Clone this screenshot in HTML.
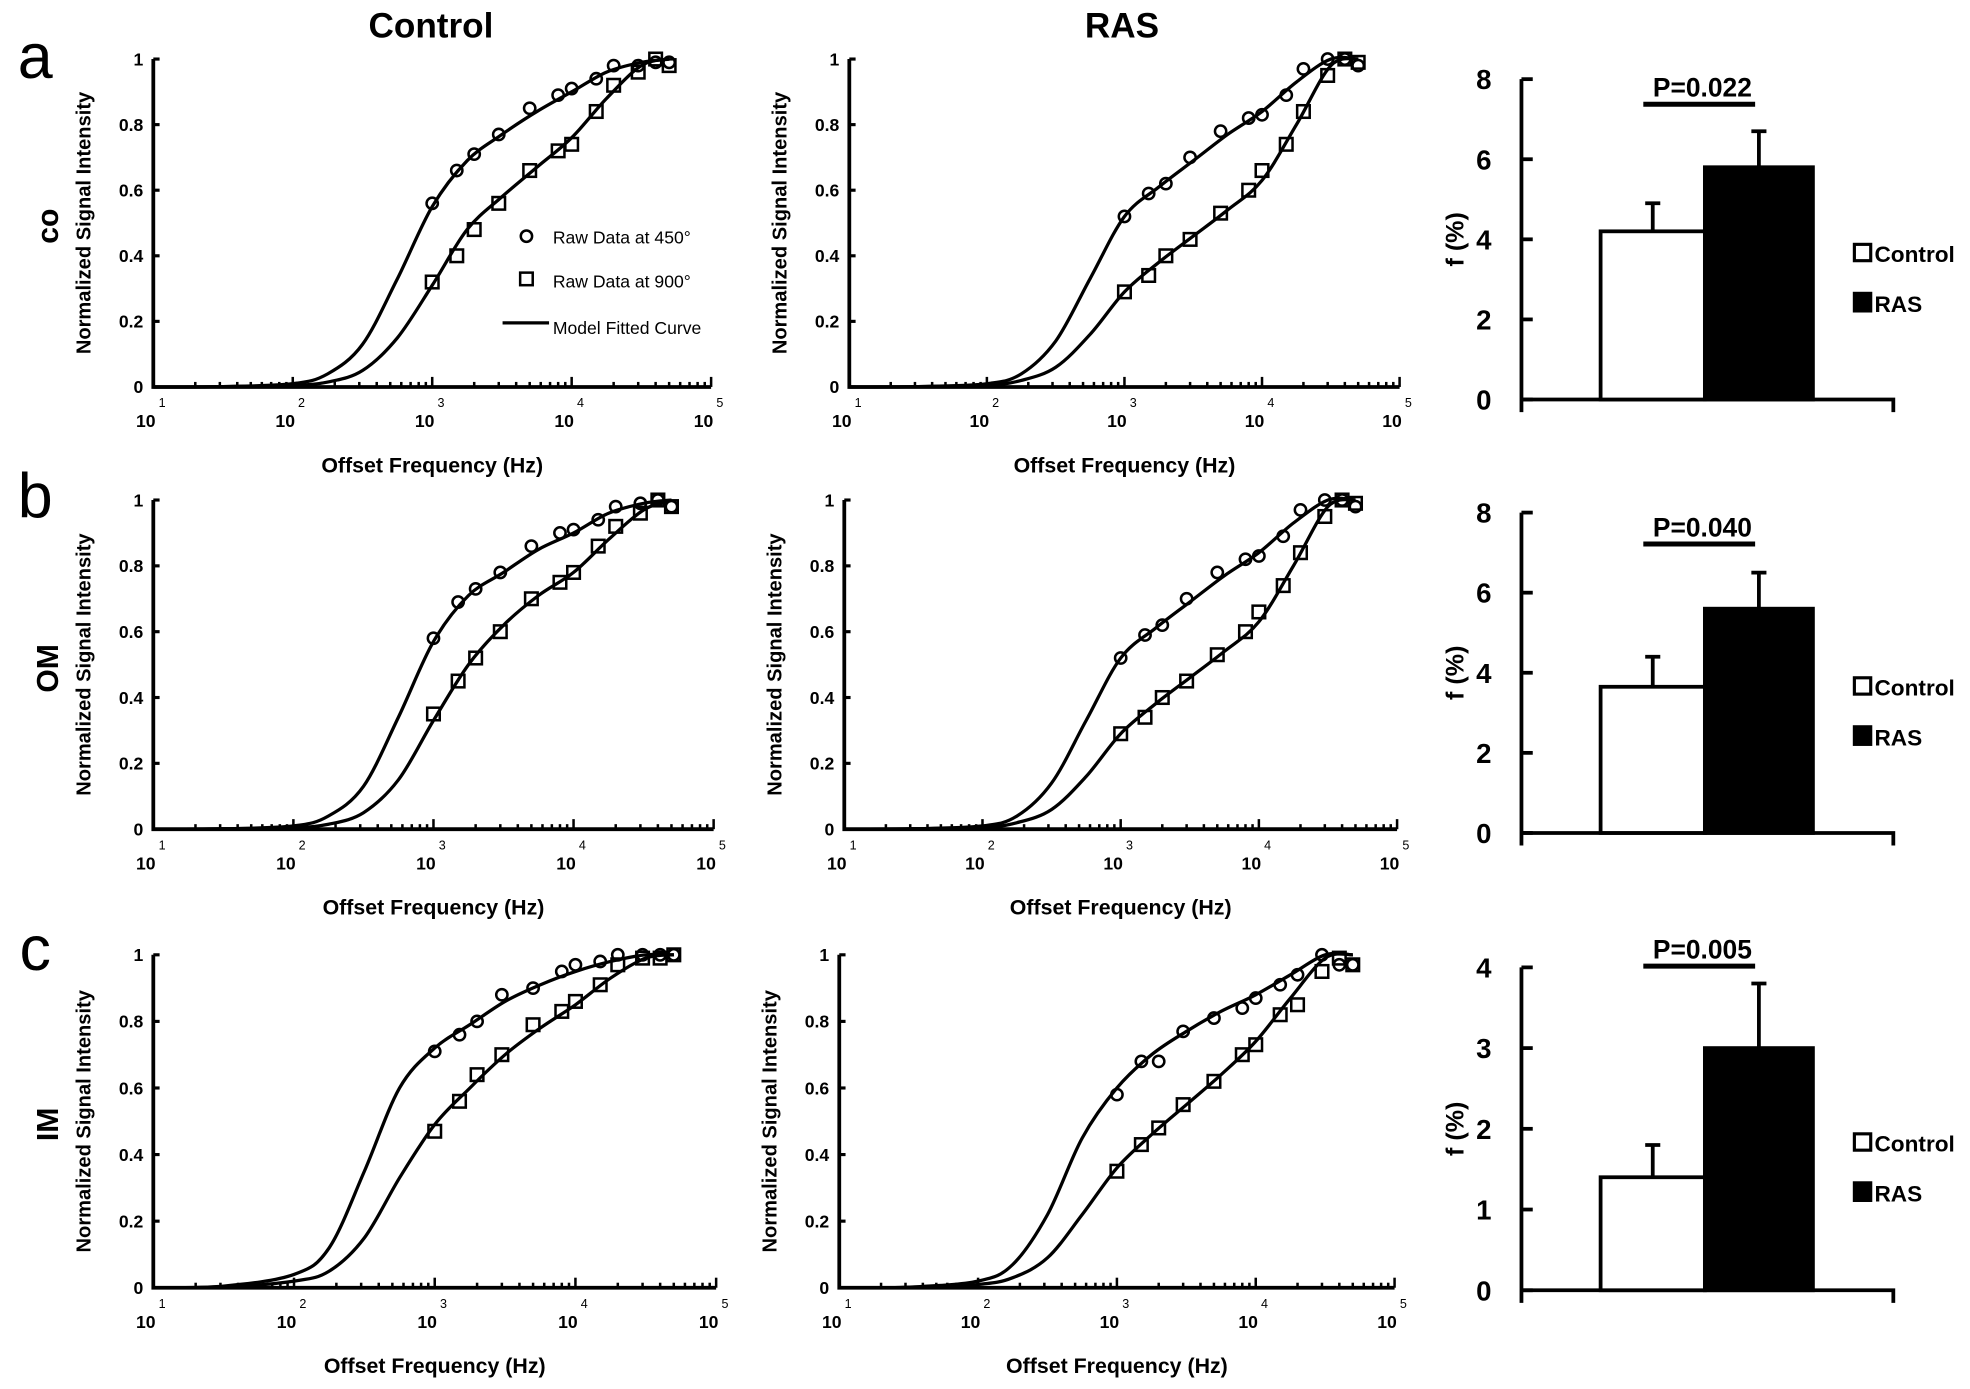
<!DOCTYPE html>
<html><head><meta charset="utf-8"><style>
html,body{margin:0;padding:0;background:#fff;}
svg{display:block;}
text{font-family:"Liberation Sans",sans-serif;font-weight:bold;fill:#000;}
text.nb{font-weight:normal;}
</style></head><body>
<svg id="fig" width="1970" height="1389" viewBox="0 0 1568 1105.6" xmlns="http://www.w3.org/2000/svg"></svg>
<script>
// ---- data ----
const freqs = [1000,1500,2000,3000,5000,8000,10000,15000,20000,30000,40000,50000];
const curveLogX = [1,1.5,2,2.25,2.5,2.75,3,3.25,3.5,3.75,4,4.25,4.5,4.7];

const aCtrlCirc = [0.56,0.66,0.71,0.77,0.85,0.89,0.91,0.94,0.98,0.98,0.99,0.99];
const aCtrlSq   = [0.32,0.40,0.48,0.56,0.66,0.72,0.74,0.84,0.92,0.96,1.0,0.98];
const aCtrlCircFit = [0,0.001,0.01,0.04,0.13,0.33,0.55,0.69,0.77,0.84,0.90,0.96,0.99,1.0];
const aCtrlSqFit   = [0,0.001,0.005,0.015,0.05,0.15,0.31,0.48,0.58,0.67,0.76,0.88,0.98,1.0];

const aRasCirc = [0.52,0.59,0.62,0.70,0.78,0.82,0.83,0.89,0.97,1.0,1.0,0.98];
const aRasSq   = [0.29,0.34,0.40,0.45,0.53,0.60,0.66,0.74,0.84,0.95,1.0,0.99];
const aRasCircFit = [0,0.001,0.01,0.04,0.14,0.33,0.52,0.61,0.69,0.77,0.84,0.93,1.0,1.0];
const aRasSqFit   = [0,0.001,0.005,0.02,0.06,0.16,0.29,0.38,0.46,0.54,0.63,0.80,0.98,1.0];

const bCtrlCirc = [0.58,0.69,0.73,0.78,0.86,0.90,0.91,0.94,0.98,0.99,1.0,0.98];
const bCtrlSq   = [0.35,0.45,0.52,0.60,0.70,0.75,0.78,0.86,0.92,0.96,1.0,0.98];
const bCtrlCircFit = [0,0.001,0.01,0.04,0.13,0.34,0.57,0.71,0.78,0.85,0.90,0.96,0.99,1.0];
const bCtrlSqFit   = [0,0.001,0.005,0.015,0.05,0.15,0.33,0.50,0.62,0.71,0.78,0.88,0.97,1.0];

const bRasCirc = [0.52,0.59,0.62,0.70,0.78,0.82,0.83,0.89,0.97,1.0,1.0,0.98];
const bRasSq   = [0.29,0.34,0.40,0.45,0.53,0.60,0.66,0.74,0.84,0.95,1.0,0.99];
const bRasCircFit = [0,0.001,0.01,0.04,0.14,0.33,0.52,0.61,0.69,0.77,0.84,0.93,1.0,1.0];
const bRasSqFit   = [0,0.001,0.005,0.02,0.06,0.16,0.29,0.38,0.46,0.54,0.63,0.80,0.98,1.0];

const cCtrlCirc = [0.71,0.76,0.80,0.88,0.90,0.95,0.97,0.98,1.0,1.0,1.0,1.0];
const cCtrlSq   = [0.47,0.56,0.64,0.70,0.79,0.83,0.86,0.91,0.97,0.99,0.99,1.0];
const cCtrlCircFit = [0,0.005,0.04,0.12,0.35,0.60,0.72,0.79,0.86,0.91,0.95,0.98,1.0,1.0];
const cCtrlSqFit   = [0,0.002,0.02,0.05,0.15,0.33,0.49,0.60,0.70,0.78,0.85,0.93,0.99,1.0];

const cRasCirc = [0.58,0.68,0.68,0.77,0.81,0.84,0.87,0.91,0.94,1.0,0.97,0.97];
const cRasSq   = [0.35,0.43,0.48,0.55,0.62,0.70,0.73,0.82,0.85,0.95,0.99,0.97];
const cRasCircFit = [0,0.002,0.02,0.07,0.22,0.45,0.60,0.70,0.77,0.83,0.88,0.94,1.0,1.0];
const cRasSqFit   = [0,0.001,0.01,0.03,0.09,0.22,0.36,0.46,0.55,0.64,0.74,0.87,0.99,1.0];

const barGroups = ["Control","RAS"];
const barA = [4.2,5.8], errA = [4.9,6.7];
const barB = [3.65,5.6], errB = [4.4,6.5];
const barC = [1.4,3.0], errC = [1.8,3.8];
const pLabels = ["P=0.022","P=0.040","P=0.005"];
const yTicksLine = [0,0.2,0.4,0.6,0.8,1];
const decades = [1,2,3,4,5];

// ---- helpers ----
const NS="http://www.w3.org/2000/svg";
const svg=document.getElementById('fig');
function mk(tag,attrs,parent){const e=document.createElementNS(NS,tag);for(const k in attrs)e.setAttribute(k,attrs[k]);(parent||svg).appendChild(e);return e;}
function txt(s,x,y,size,parent,anchor,extra,cls){const t=mk('text',Object.assign({x:x,y:y,'font-size':size,'text-anchor':anchor||'middle'},extra||{}),parent);if(cls)t.setAttribute('class',cls);t.textContent=s;return t;}
function smooth(pts){
  let d='M'+pts[0][0].toFixed(1)+','+pts[0][1].toFixed(1);
  for(let i=0;i<pts.length-1;i++){
    const p0=pts[Math.max(0,i-1)],p1=pts[i],p2=pts[i+1],p3=pts[Math.min(pts.length-1,i+2)];
    const c1=[p1[0]+(p2[0]-p0[0])/6,p1[1]+(p2[1]-p0[1])/6];
    const c2=[p2[0]-(p3[0]-p1[0])/6,p2[1]-(p3[1]-p1[1])/6];
    d+=` C${c1[0].toFixed(1)},${c1[1].toFixed(1)} ${c2[0].toFixed(1)},${c2[1].toFixed(1)} ${p2[0].toFixed(1)},${p2[1].toFixed(1)}`;
  }
  return d;
}

function linePlot(name,x0,x1,yT,yB,circ,sq,circFit,sqFit){
  const g=mk('g',{});
  
  
  const X=l=>x0+(l-1)/4*(x1-x0);
  const Y=v=>yB-v*(yB-yT);
  const ax=mk('path',{d:`M${x0},${yT} V${yB} H${x1}`,stroke:'#000','stroke-width':3,fill:'none'},g);
  
  
  yTicksLine.forEach(v=>{
    mk('line',{x1:x0,x2:x0+5,y1:Y(v),y2:Y(v),stroke:'#000','stroke-width':2.5},g);
    const t=txt(String(v),x0-8,Y(v)+5,14,g,'end');
    
    
  });
  decades.forEach(d=>{
    if(d<5)for(let k=2;k<=9;k++){const l=d+Math.log10(k);mk('line',{x1:X(l),x2:X(l),y1:yB,y2:yB-4,stroke:'#000','stroke-width':2},g);}
    mk('line',{x1:X(d),x2:X(d),y1:yB,y2:yB-8,stroke:'#000','stroke-width':2},g);
    const t=txt('10',X(d)-6,yB+32,14,g,'middle');
    
    
    txt(String(d),X(d)+7,yB+16,10,g,'middle',{},'nb');
  });
  const xt=txt('Offset Frequency (Hz)',(x0+x1)/2,yB+68,17,g);
  
  
  const yt=txt('Normalized Signal Intensity',0,0,16,g,'middle',{transform:`translate(${x0-50},${(yT+yB)/2}) rotate(-90)`});
  
  
  [circFit,sqFit].forEach((arr,i)=>{
    const pts=arr.map((v,j)=>[X(curveLogX[j]),Y(v)]);
    const p=mk('path',{d:smooth(pts),stroke:'#000','stroke-width':2.6,fill:'none','stroke-linejoin':'round'},g);
    
    
  });
  circ.forEach((v,j)=>{
    const c=mk('circle',{cx:X(Math.log10(freqs[j])),cy:Y(v),r:4.5,fill:'none',stroke:'#000','stroke-width':2},g);
    
    
  });
  sq.forEach((v,j)=>{
    const r=mk('rect',{x:X(Math.log10(freqs[j]))-5,y:Y(v)-5,width:10,height:10,fill:'none',stroke:'#000','stroke-width':2},g);
    
    
  });
  return g;
}

function barPlot(name,yT,yB,maxV,step,vals,errs,p,pY){
  const g=mk('g',{});
  
  
  const x0=1211,x1=1507;
  const Y=v=>yB-v/maxV*(yB-yT);
  mk('path',{d:`M${x0},${yT} V${yB} H${x1} V${yB+10} M${x0},${yB} V${yB+10}`,stroke:'#000','stroke-width':3,fill:'none'},g);
  for(let v=0;v<=maxV;v+=step){
    mk('line',{x1:x0,x2:x0+9,y1:Y(v),y2:Y(v),stroke:'#000','stroke-width':3},g);
    const t=txt(String(v),x0-30,Y(v)+8,22,g,'middle');
    
    
  }
  const yt=txt('f (%)',0,0,20,g,'middle',{transform:`translate(${x0-46},${(yT+yB)/2}) rotate(-90)`});
  
  
  const bx=[1274,1357], bw=[83,86];
  vals.forEach((v,i)=>{
    const cx=bx[i]+bw[i]/2;
    mk('path',{d:`M${cx},${Y(v)} V${Y(errs[i])} M${cx-6},${Y(errs[i])} H${cx+6}`,stroke:'#000','stroke-width':3,fill:'none'},g);
    const r=mk('rect',{x:bx[i],y:Y(v),width:bw[i],height:yB-Y(v),fill:i?'#000':'#fff',stroke:'#000','stroke-width':3},g);
    
    
  });
  const pt=txt(p,1355,pY,21,g);
  
  
  mk('line',{x1:1308,x2:1397,y1:pY+6,y2:pY+6,stroke:'#000','stroke-width':4},g);
  const mid=(yT+yB)/2;
  const l1=mk('g',{},g);
  
  
  mk('rect',{x:1476,y:mid+4,width:13,height:13,fill:'#fff',stroke:'#000','stroke-width':2.5},l1);
  txt('Control',1492,mid+18,18,l1,'start');
  const l2=mk('g',{},g);
  
  
  mk('rect',{x:1476,y:mid+43,width:13,height:14,fill:'#000',stroke:'#000','stroke-width':2.5},l2);
  txt('RAS',1492,mid+58,18,l2,'start');
}

// ---- build ----
const t1=txt('Control',343,30,28);


const t2=txt('RAS',893,30,28);



linePlot('plot-a-control',122,566,47,308,aCtrlCirc,aCtrlSq,aCtrlCircFit,aCtrlSqFit);
linePlot('plot-a-ras',676,1114,47,308,aRasCirc,aRasSq,aRasCircFit,aRasSqFit);
linePlot('plot-b-control',122,568,398,660,bCtrlCirc,bCtrlSq,bCtrlCircFit,bCtrlSqFit);
linePlot('plot-b-ras',672,1112,398,660,bRasCirc,bRasSq,bRasCircFit,bRasSqFit);
linePlot('plot-c-control',122,570,760,1025,cCtrlCirc,cCtrlSq,cCtrlCircFit,cCtrlSqFit);
linePlot('plot-c-ras',668,1110,760,1025,cRasCirc,cRasSq,cRasCircFit,cRasSqFit);

barPlot('bar-chart-a',63,318,8,2,barA,errA,pLabels[0],77);
barPlot('bar-chart-b',408,663,8,2,barB,errB,pLabels[1],427);
barPlot('bar-chart-c',770,1027,4,1,barC,errC,pLabels[2],763);

[['a',62],['b',412],['c',772]].forEach(([s,y])=>{
  const t=txt(s,28,y,50,null,'middle',{},'nb');
  
  
});
[['co',180],['OM',532],['IM',895]].forEach(([s,y])=>{
  const t=txt(s,0,0,24,null,'middle',{transform:`translate(46,${y}) rotate(-90)`});
  
  
});

const lg=mk('g',{});


mk('circle',{cx:419,cy:188,r:4.5,fill:'none',stroke:'#000','stroke-width':2},lg);
txt('Raw Data at 450°',440,194,14,lg,'start',{},'nb');
mk('rect',{x:414,y:217,width:10,height:10,fill:'none',stroke:'#000','stroke-width':2},lg);
txt('Raw Data at 900°',440,229,14,lg,'start',{},'nb');
mk('line',{x1:400,x2:437,y1:257,y2:257,stroke:'#000','stroke-width':2.6},lg);
txt('Model Fitted Curve',440,266,14,lg,'start',{},'nb');
</script>
</body></html>
